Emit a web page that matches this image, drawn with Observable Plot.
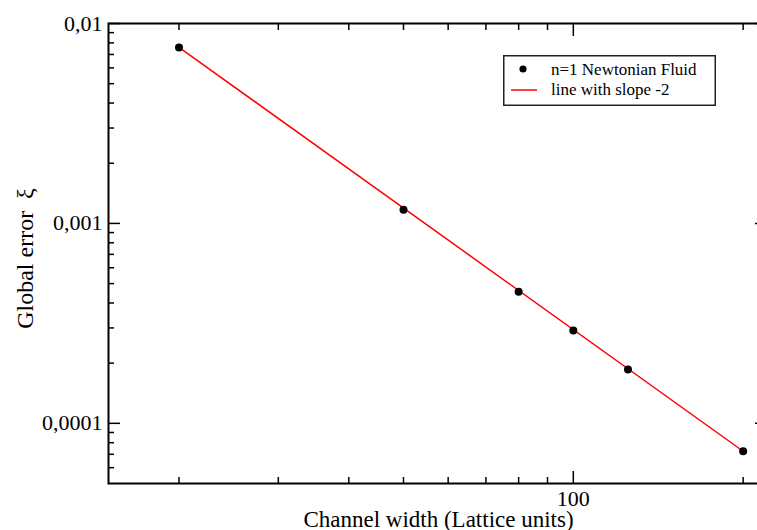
<!DOCTYPE html>
<html>
<head>
<meta charset="utf-8">
<script src="https://cdn.jsdelivr.net/npm/d3@7"></script>
<script src="https://cdn.jsdelivr.net/npm/@observablehq/plot@0.6"></script>
<style>
  body { margin: 0; background: #fff; }
  #wrap { position: relative; width: 757px; height: 530px; overflow: hidden;
          font-family: "Liberation Serif", "Times New Roman", serif; }
  #legend { position: absolute; left: 503px; top: 55px; }
</style>
</head>
<body>
<div id="wrap">
  <svg id="legend" width="213" height="51">
    <rect x="0.75" y="0.75" width="211.5" height="49.5" fill="#fff" stroke="#222" stroke-width="1.5"></rect>
    <circle cx="20" cy="14" r="3.6" fill="#000"></circle>
    <line x1="8" x2="34" y1="35" y2="35" stroke="#ff0000" stroke-width="1.5"></line>
    <text x="48" y="20" font-family="Liberation Serif" font-size="17">n=1 Newtonian Fluid</text>
    <text x="48" y="40" font-family="Liberation Serif" font-size="17">line with slope -2</text>
  </svg>
</div>
<script>
// Channel widths (lattice units) and the measured global error
const widths = [20, 50, 80, 100, 125, 200];
const errors = [0.00759, 0.00117, 0.000455, 0.000291, 0.000186, 0.0000724];

// Reference line of slope -2, from its two end points
const slopeX = [20, 200];
const slopeY = [0.0076, 0.0000725];

// Tick positions and labels
const xMajor = [100];
const xMajorLabels = ["100"];
const xMinor = [20, 30, 40, 50, 60, 70, 80, 90, 200];
const yMajor = [0.0001, 0.001, 0.01];
const yMajorLabels = ["0,0001", "0,001", "0,01"];
const yMinor = [
  0.00006, 0.00007, 0.00008, 0.00009,
  0.0002, 0.0003, 0.0004, 0.0005, 0.0006, 0.0007, 0.0008, 0.0009,
  0.002, 0.003, 0.004, 0.005, 0.006, 0.007, 0.008, 0.009
];

const points = widths.map((w, i) => ({w, e: errors[i]}));
const slope = slopeX.map((w, i) => ({w, e: slopeY[i]}));

const font = "Liberation Serif, Times New Roman, serif";
const W = 766, H = 530;

// Inward ticks: an ordinary outward axis tick, shifted by its own length
// so that it sits inside the frame.
const tickMarks = (axis, data, anchor, len) => {
  const shift = {left: ["dx", len], right: ["dx", -len], top: ["dy", len], bottom: ["dy", -len]}[anchor];
  return axis(data, {
    anchor, tickSize: len, strokeWidth: 1.5, stroke: "#000", fill: "none", label: null,
    [shift[0]]: shift[1]
  });
};

const chart = Plot.plot({
  width: W,
  height: H,
  marginLeft: 108,
  marginRight: 0,
  marginTop: 23,
  marginBottom: 47,
  x: {type: "log", domain: [15, 220]},
  y: {type: "log", domain: [0.00005, 0.01]},
  style: {fontFamily: font, fontSize: "22px", color: "#000", background: "transparent"},
  marks: [
    Plot.axisY(yMajor, {
      anchor: "left", tickSize: 0, tickPadding: 6, label: null,
      tickFormat: d => yMajorLabels[yMajor.indexOf(d)]
    }),
    Plot.axisX(xMajor, {
      anchor: "bottom", tickSize: 0, tickPadding: 7, label: null,
      tickFormat: d => xMajorLabels[xMajor.indexOf(d)]
    }),
    Plot.text(["Global error  ξ"], {
      text: d => d, frameAnchor: "left", textAnchor: "middle", rotate: -90,
      lineAnchor: "bottom", dx: -76, dy: 5, fontSize: 24
    }),
    Plot.text(["Channel width (Lattice units)"], {
      text: d => d, frameAnchor: "bottom", textAnchor: "middle", lineAnchor: "bottom",
      dx: 1, dy: 43, fontSize: 23
    }),
    tickMarks(Plot.axisY, yMajor, "left", 12),
    tickMarks(Plot.axisY, yMinor, "left", 6),
    tickMarks(Plot.axisY, yMajor, "right", 12),
    tickMarks(Plot.axisY, yMinor, "right", 6),
    tickMarks(Plot.axisX, xMajor, "bottom", 12),
    tickMarks(Plot.axisX, xMinor, "bottom", 6),
    tickMarks(Plot.axisX, xMajor, "top", 12),
    tickMarks(Plot.axisX, xMinor, "top", 6),
    Plot.frame({stroke: "#000", strokeWidth: 2}),
    Plot.line(slope, {x: "w", y: "e", stroke: "#ff0000", strokeWidth: 1.5}),
    Plot.dot(points, {x: "w", y: "e", r: 4, fill: "#000", stroke: "none"})
  ]
});

// keep the drawing at its own pixel size; the wrapper crops the right edge
chart.style.maxWidth = "none";
chart.style.width = W + "px";
chart.style.height = H + "px";
chart.style.position = "absolute";
chart.style.left = "0px";
chart.style.top = "0px";

const wrap = document.getElementById("wrap");
wrap.insertBefore(chart, wrap.firstChild);
</script>
</body>
</html>
